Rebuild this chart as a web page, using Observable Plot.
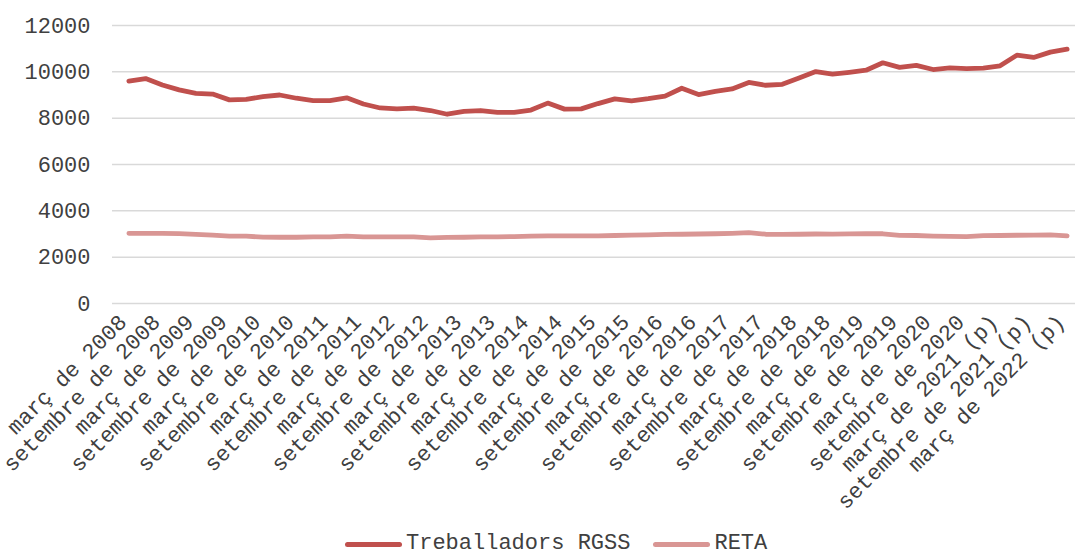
<!DOCTYPE html>
<html>
<head>
<meta charset="utf-8">
<script src="https://cdn.jsdelivr.net/npm/d3@7"></script>
<script src="https://cdn.jsdelivr.net/npm/@observablehq/plot@0.6"></script>
<style>
  html, body { margin: 0; padding: 0; background: #fff; }
  #chart { width: 1075px; height: 558px; position: relative; font-family: "Liberation Mono", monospace; color: #404040; }
  .legend { display: flex; align-items: center; padding-left: 345px; height: 20px; line-height: 20px; font-size: 22px; }
  .legend .sw { display: inline-block; width: 57px; height: 5px; border-radius: 3px; margin-right: 4px; }
  .legend .item { display: flex; align-items: center; margin-right: 23px; }
</style>
</head>
<body>
<div id="chart"></div>
<script>
const months = ["març", "juny", "setembre", "desembre"];
const years = [2008, 2009, 2010, 2011, 2012, 2013, 2014, 2015, 2016, 2017, 2018, 2019, 2020, 2021, 2022];
const provisionalFrom = 2021;

const categories = [];
for (const y of years) {
  for (const m of months) {
    if (y === 2022 && m !== "març") continue;
    categories.push(`${m} de ${y}` + (y >= provisionalFrom ? " (p)" : ""));
  }
}

const seriesNames = ["Treballadors RGSS", "RETA"];
const seriesColors = ["#C0504D", "#D99694"];

const rgss = [
  9600, 9710, 9430, 9220, 9070, 9040, 8790, 8810, 8930, 9000,
  8860, 8760, 8760, 8880, 8610, 8440, 8400, 8430, 8330, 8170,
  8290, 8330, 8250, 8250, 8350, 8650, 8390, 8400, 8630, 8830,
  8750, 8840, 8950, 9290, 9020, 9160, 9260, 9540, 9420, 9460,
  9730, 10010, 9900, 9980, 10070, 10390, 10190, 10280, 10100, 10170,
  10140, 10160, 10260, 10720, 10620, 10850, 10980
];

const reta = [
  3030, 3030, 3030, 3020, 2980, 2950, 2910, 2905, 2865, 2860,
  2860, 2875, 2875, 2905, 2875, 2875, 2875, 2875, 2835, 2850,
  2860, 2875, 2875, 2890, 2905, 2920, 2920, 2920, 2920, 2935,
  2950, 2965, 2980, 2990, 3000, 3010, 3030, 3060, 2990, 2985,
  2990, 3000, 2995, 3005, 3010, 3010, 2940, 2935, 2910, 2900,
  2890, 2930, 2935, 2945, 2950, 2960, 2920
];

const yTicks = [0, 2000, 4000, 6000, 8000, 10000, 12000];
const xTicks = categories.filter((d, i) => i % 2 === 0);

const data = [];
categories.forEach((c, i) => {
  data.push({cat: c, series: seriesNames[0], value: rgss[i]});
  data.push({cat: c, series: seriesNames[1], value: reta[i]});
});

const chart = Plot.plot({
  width: 1075,
  height: 534,
  marginLeft: 112,
  marginRight: 0,
  marginTop: 25,
  marginBottom: 231,
  style: { fontFamily: "Liberation Mono, monospace", fontSize: "22px", color: "#404040", background: "#fff", overflow: "visible" },
  x: { type: "point", domain: categories, range: [120, 1075] },
  y: { domain: [0, 12000] },
  color: { domain: seriesNames, range: seriesColors },
  marks: [
    Plot.gridY(yTicks, { stroke: "#d9d9d9", strokeOpacity: 1, strokeWidth: 1.5 }),
    Plot.axisY(yTicks, { tickSize: 0, tickPadding: 22, tickFormat: d => String(d), label: null, fill: "#404040" }),
    Plot.axisX(xTicks, { tickSize: 0, tickPadding: 15, tickRotate: -45, dx: -6, label: null, fill: "#404040" }),
    Plot.line(data, { x: "cat", y: "value", z: "series", stroke: "series", strokeWidth: 4.8, strokeLinecap: "round", strokeLinejoin: "round" })
  ]
});

const root = document.getElementById("chart");
root.appendChild(chart);

const legend = document.createElement("div");
legend.className = "legend";
seriesNames.forEach((name, i) => {
  const item = document.createElement("span");
  item.className = "item";
  const sw = document.createElement("span");
  sw.className = "sw";
  sw.style.background = seriesColors[i];
  const t = document.createElement("span");
  t.textContent = name;
  item.appendChild(sw);
  item.appendChild(t);
  legend.appendChild(item);
});
root.appendChild(legend);
</script>
</body>
</html>
